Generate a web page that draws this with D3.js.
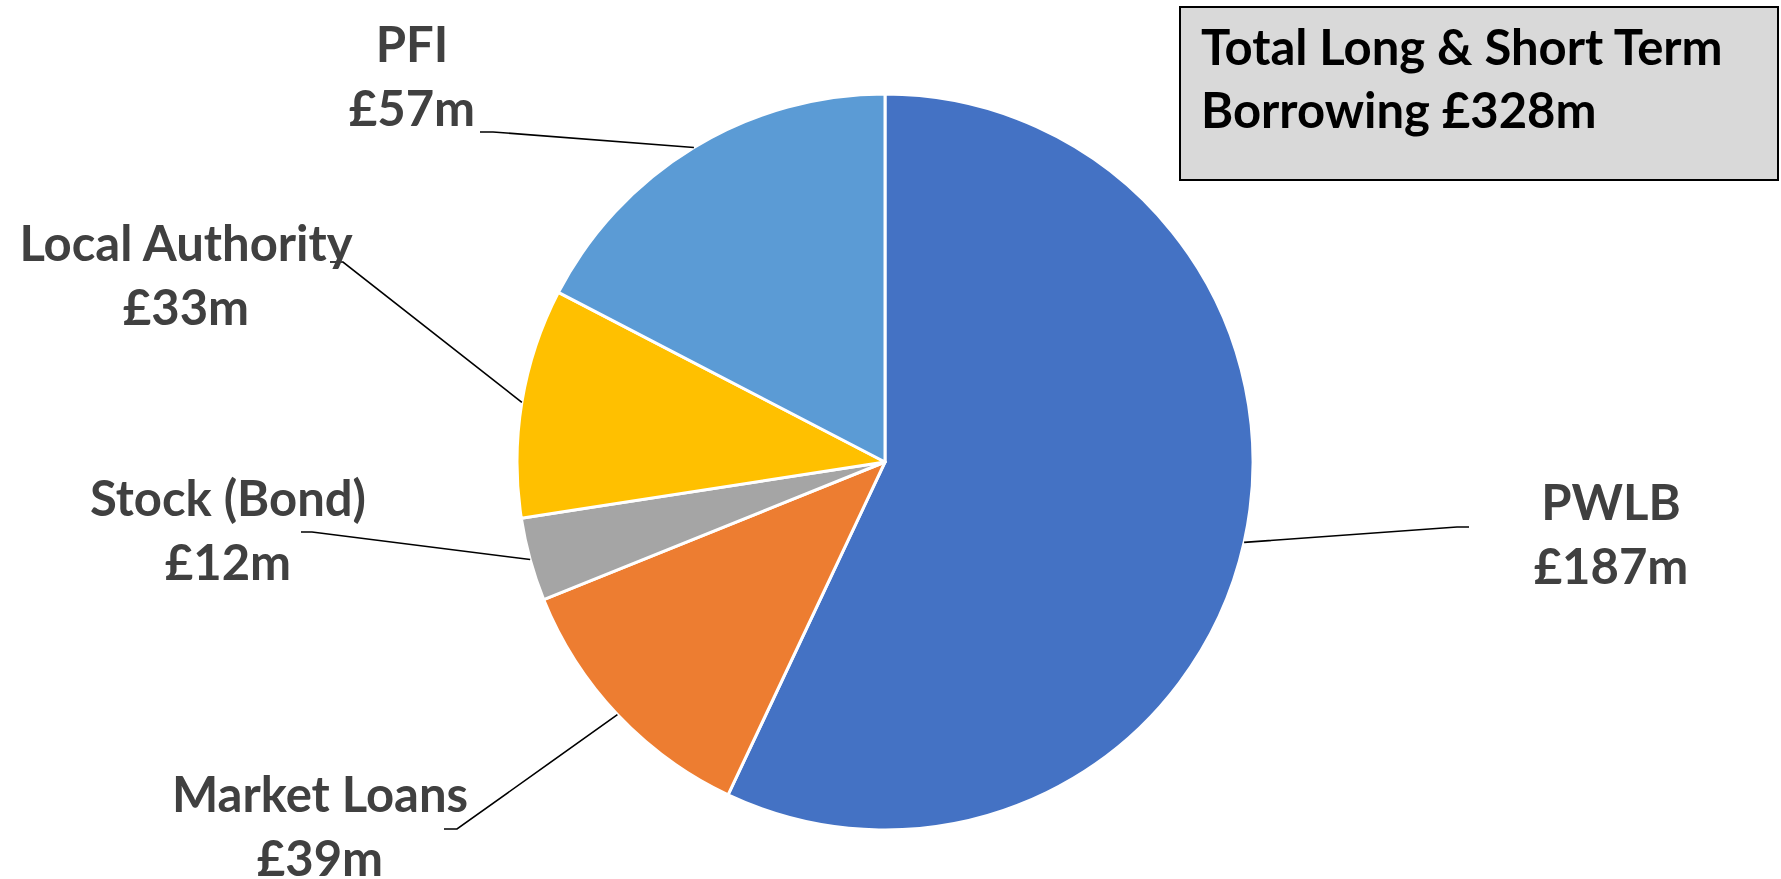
<!DOCTYPE html>
<html>
<head>
<meta charset="utf-8">
<script src="https://cdn.jsdelivr.net/npm/d3@7"></script>
<style>
  html, body { margin: 0; padding: 0; background: #fff; }
  svg { display: block; }
  text { font-family: Lato, "Open Sans", sans-serif; font-weight: 700; }
</style>
</head>
<body>
<svg id="chart" width="1781" height="879"></svg>
<script>
// Borrowing by source, £m
const categories = ["PWLB", "Market Loans", "Stock (Bond)", "Local Authority", "PFI"];
const values = [187, 39, 12, 33, 57];
const valueLabels = ["£187m", "£39m", "£12m", "£33m", "£57m"];
const colors = ["#4472C4", "#ED7D31", "#A5A5A5", "#FFC000", "#5B9BD5"];
const titleLines = ["Total Long & Short Term", "Borrowing £328m"];

// Label placement: text centre, first baseline, and the elbow where the leader meets the label
const labelLayout = {
  "PWLB":            { x: 1611, y: 520, ex: 1457, ey: 527, tick: 12 },
  "Market Loans":    { x: 320,  y: 812, ex: 457,  ey: 829, tick: -13 },
  "Stock (Bond)":    { x: 228,  y: 516, ex: 312,  ey: 532, tick: -11 },
  "Local Authority": { x: 186,  y: 261, ex: 343,  ey: 262, tick: -13 },
  "PFI":             { x: 412,  y: 62,  ex: 493,  ey: 132, tick: -13 }
};

const svg = d3.select("#chart");
const cx = 885, cy = 462, radius = 368;
const fontSize = 49, lineGap = 64;

const data = categories.map((c, i) => ({ name: c, value: values[i], label: valueLabels[i], color: colors[i] }));

const pie = d3.pie().value(d => d.value).sort(null);
const arcs = pie(data);
const arc = d3.arc().innerRadius(0).outerRadius(radius);
const edge = d3.arc().innerRadius(radius).outerRadius(radius);

const g = svg.append("g").attr("transform", `translate(${cx},${cy})`);

g.selectAll("path.slice")
  .data(arcs)
  .join("path")
  .attr("class", "slice")
  .attr("d", arc)
  .attr("fill", d => d.data.color)
  .attr("stroke", "#fff")
  .attr("stroke-width", 3)
  .attr("stroke-linejoin", "round");

// Leader lines: from the slice's mid-angle on the rim to the label elbow
arcs.forEach(a => {
  const L = labelLayout[a.data.name];
  const [px, py] = edge.centroid(a);
  const pts = [[px + cx, py + cy], [L.ex, L.ey], [L.ex + L.tick, L.ey]];
  svg.append("path")
    .attr("d", d3.line()(pts))
    .attr("fill", "none")
    .attr("stroke", "#000")
    .attr("stroke-width", 1.6);
});

// Category and value labels
arcs.forEach(a => {
  const L = labelLayout[a.data.name];
  const t = svg.append("text")
    .attr("x", L.x).attr("y", L.y)
    .attr("text-anchor", "middle")
    .attr("font-size", fontSize)
    .attr("fill", "#404040");
  t.append("tspan").attr("x", L.x).attr("y", L.y).text(a.data.name);
  t.append("tspan").attr("x", L.x).attr("y", L.y + lineGap).text(a.data.label);
});

// Title box
const box = svg.append("g");
box.append("rect")
  .attr("x", 1180).attr("y", 7)
  .attr("width", 598).attr("height", 173)
  .attr("fill", "#D9D9D9")
  .attr("stroke", "#000")
  .attr("stroke-width", 2);
const title = box.append("text")
  .attr("font-size", fontSize)
  .attr("fill", "#000");
titleLines.forEach((s, i) => {
  title.append("tspan").attr("x", 1201).attr("y", 65 + i * 63).text(s);
});
</script>
</body>
</html>
